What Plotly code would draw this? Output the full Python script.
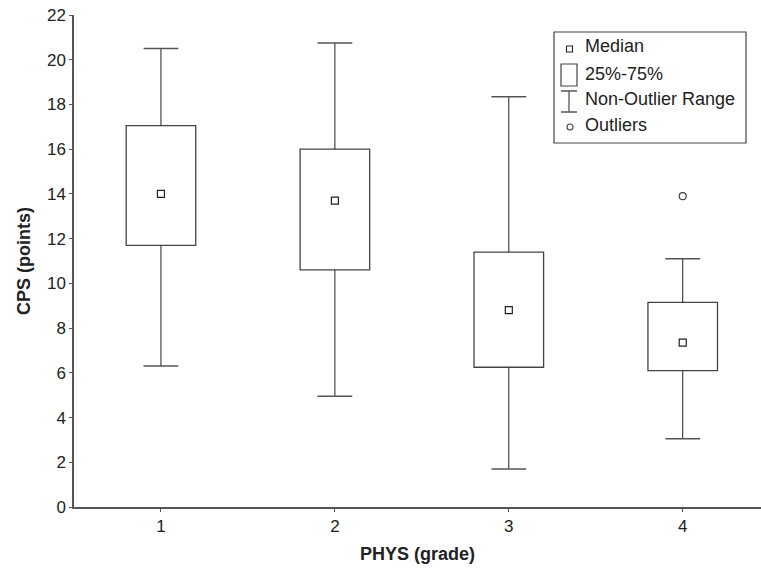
import plotly.graph_objects as go

# Box-plot summary per physics grade
grades = [1, 2, 3, 4]
upper_whisker = [20.5, 20.75, 18.35, 11.1]
q3 = [17.05, 16.0, 11.4, 9.15]
median = [14.0, 13.7, 8.8, 7.35]
q1 = [11.7, 10.6, 6.25, 6.1]
lower_whisker = [6.3, 4.95, 1.7, 3.05]
outlier_x = [4]
outlier_y = [13.9]

y_ticks = list(range(0, 23, 2))
legend_labels = ["Median", "25%-75%", "Non-Outlier Range", "Outliers"]

W, H = 761, 571
L, R, T, B = 74, 0, 15, 64
PW, PH = W - L - R, H - T - B

BOX_HALF = 0.2
CAP_HALF = 0.1
FONT = "Liberation Sans, Arial, sans-serif"

fig = go.Figure()

shapes = []
for g, lo, a, b, hi in zip(grades, lower_whisker, q1, q3, upper_whisker):
    # interquartile box
    shapes.append(dict(type="rect", xref="x", yref="y", x0=g - BOX_HALF, x1=g + BOX_HALF,
                       y0=a, y1=b, line=dict(color="#444", width=1.3), layer="above"))
    # whisker stems
    shapes.append(dict(type="line", xref="x", yref="y", x0=g, x1=g, y0=b, y1=hi,
                       line=dict(color="#222", width=1)))
    shapes.append(dict(type="line", xref="x", yref="y", x0=g, x1=g, y0=lo, y1=a,
                       line=dict(color="#222", width=1)))
    # whisker caps
    for v in (lo, hi):
        shapes.append(dict(type="line", xref="x", yref="y", x0=g - CAP_HALF, x1=g + CAP_HALF,
                           y0=v, y1=v, line=dict(color="#555", width=1.5)))

fig.add_trace(go.Scatter(x=grades, y=median, mode="markers", showlegend=False,
                         marker=dict(symbol="square-open", size=7,
                                     line=dict(color="#222", width=1.2), color="#222")))
fig.add_trace(go.Scatter(x=outlier_x, y=outlier_y, mode="markers", showlegend=False,
                         marker=dict(symbol="circle-open", size=7,
                                     line=dict(color="#444", width=1.2), color="#444")))


# legend drawn in pixel space converted to paper coordinates
def px(x):
    return (x - L) / PW


def py(y):
    return (H - B - y) / PH


shapes.append(dict(type="rect", xref="paper", yref="paper", x0=px(554), x1=px(746),
                   y0=py(143), y1=py(32), line=dict(color="#444", width=1.2),
                   fillcolor="white", layer="above"))
annotations = []
shapes.append(dict(type="rect", xref="paper", yref="paper", x0=px(561), x1=px(577),
                   y0=py(86), y1=py(64), line=dict(color="#444", width=1.2), layer="above"))
shapes.append(dict(type="line", xref="paper", yref="paper", x0=px(569), x1=px(569),
                   y0=py(112), y1=py(91), line=dict(color="#222", width=1), layer="above"))
for yy in (91, 112):
    shapes.append(dict(type="line", xref="paper", yref="paper", x0=px(561), x1=px(577),
                       y0=py(yy), y1=py(yy), line=dict(color="#555", width=1.5), layer="above"))
shapes.append(dict(type="rect", xref="paper", yref="paper", x0=px(566.5), x1=px(572.5),
                   y0=py(52), y1=py(46), line=dict(color="#222", width=1.1), layer="above"))
shapes.append(dict(type="circle", xref="paper", yref="paper", x0=px(567), x1=px(573),
                   y0=py(130), y1=py(124), line=dict(color="#444", width=1.1), layer="above"))

for label, yy in zip(legend_labels, [46, 74, 99, 125]):
    annotations.append(dict(text=label, xref="paper", yref="paper", x=px(583), y=py(yy),
                            xanchor="left", yanchor="middle", showarrow=False,
                            font=dict(family=FONT, size=18, color="#222")))

fig.update_layout(
    width=W, height=H,
    margin=dict(l=L, r=R, t=T, b=B, pad=0),
    paper_bgcolor="white", plot_bgcolor="white",
    shapes=shapes, annotations=annotations,
    font=dict(family=FONT, size=17, color="#222"),
    xaxis=dict(range=[0.5, 4.45], tickvals=grades, ticktext=[str(g) for g in grades],
               showgrid=False, zeroline=False, showline=True, linecolor="#555", linewidth=1.5,
               ticks="outside", ticklen=3, tickcolor="#555", tickfont=dict(size=17),
               title=dict(text="<b>PHYS (grade)</b>", font=dict(size=18), standoff=12)),
    yaxis=dict(range=[0, 22], tickvals=y_ticks, showgrid=False, zeroline=False,
               showline=True, linecolor="#555", linewidth=1.5,
               ticks="outside", ticklen=3, tickcolor="#555", tickfont=dict(size=17),
               title=dict(text="<b>CPS (points)</b>", font=dict(size=18), standoff=12)),
)

fig.write_html("out.html")
